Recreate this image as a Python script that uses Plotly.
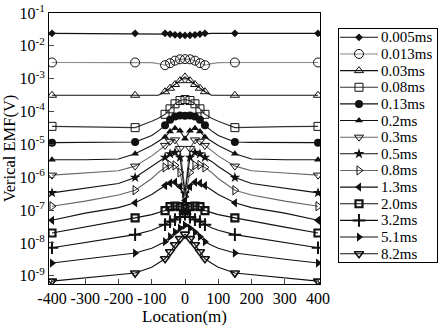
import plotly.graph_objects as go

# ---------------- data ----------------
location = [-400, -300, -200, -150, -100, -80, -60, -45, -30, -15, 0,
            15, 30, 45, 60, 80, 100, 150, 200, 300, 400]
marker_locations = [-400, -150, -60, -45, -30, -15, 0, 15, 30, 45, 60, 150, 400]

time_labels = ["0.005ms", "0.013ms", "0.03ms", "0.08ms", "0.13ms", "0.2ms", "0.3ms",
               "0.5ms", "0.8ms", "1.3ms", "2.0ms", "3.2ms", "5.1ms", "8.2ms"]

emf_0_005 = [2.40e-2, 2.40e-2, 2.40e-2, 2.40e-2, 2.40e-2, 2.40e-2, 2.40e-2, 2.28e-2, 2.16e-2, 2.10e-2, 2.08e-2,
             2.10e-2, 2.16e-2, 2.28e-2, 2.40e-2, 2.40e-2, 2.40e-2, 2.40e-2, 2.40e-2, 2.40e-2, 2.40e-2]
emf_0_013 = [3.12e-3, 3.12e-3, 3.12e-3, 3.12e-3, 3.08e-3, 2.87e-3, 2.58e-3, 2.97e-3, 3.54e-3, 3.89e-3, 3.94e-3,
             3.89e-3, 3.54e-3, 2.97e-3, 2.58e-3, 2.87e-3, 3.08e-3, 3.12e-3, 3.12e-3, 3.12e-3, 3.12e-3]
emf_0_03 = [3.13e-4, 3.13e-4, 3.13e-4, 3.13e-4, 3.13e-4, 3.13e-4, 4.01e-4, 5.13e-4, 6.65e-4, 8.69e-4, 1.135e-3,
            8.69e-4, 6.65e-4, 5.13e-4, 4.01e-4, 3.13e-4, 3.13e-4, 3.13e-4, 3.13e-4, 3.13e-4, 3.13e-4]
emf_0_08 = [3.54e-5, 3.47e-5, 3.35e-5, 3.24e-5, 5.04e-5, 6.22e-5, 8.24e-5, 1.21e-4, 1.72e-4, 2.16e-4, 2.32e-4,
            2.16e-4, 1.72e-4, 1.21e-4, 8.24e-5, 6.22e-5, 5.04e-5, 3.24e-5, 3.35e-5, 3.47e-5, 3.54e-5]
emf_0_13 = [1.13e-5, 1.14e-5, 1.15e-5, 1.18e-5, 1.88e-5, 2.58e-5, 3.80e-5, 5.60e-5, 7.01e-5, 7.52e-5, 7.42e-5,
            7.52e-5, 7.01e-5, 5.60e-5, 3.80e-5, 2.58e-5, 1.88e-5, 1.18e-5, 1.15e-5, 1.14e-5, 1.13e-5]
emf_0_2 = [3.41e-6, 3.41e-6, 3.61e-6, 5.20e-6, 9.32e-6, 1.24e-5, 1.67e-5, 2.49e-5, 3.08e-5, 2.58e-5, 1.49e-5,
           2.58e-5, 3.08e-5, 2.49e-5, 1.67e-5, 1.24e-5, 9.32e-6, 5.20e-6, 3.61e-6, 3.41e-6, 3.41e-6]
emf_0_3 = [1.16e-6, 1.35e-6, 1.57e-6, 2.18e-6, 4.46e-6, 6.33e-6, 9.32e-6, 1.24e-5, 1.37e-5, 7.55e-6, 3.94e-7,
           7.55e-6, 1.37e-5, 1.24e-5, 9.32e-6, 6.33e-6, 4.46e-6, 2.18e-6, 1.57e-6, 1.35e-6, 1.16e-6]
emf_0_5 = [3.35e-7, 4.53e-7, 6.45e-7, 9.83e-7, 2.13e-6, 3.03e-6, 4.01e-6, 5.13e-6, 5.70e-6, 4.01e-6, 3.19e-7,
           4.01e-6, 5.70e-6, 5.13e-6, 4.01e-6, 3.03e-6, 2.13e-6, 9.83e-7, 6.45e-7, 4.53e-7, 3.35e-7]
emf_0_8 = [1.31e-7, 1.88e-7, 2.87e-7, 4.02e-7, 9.16e-7, 1.40e-6, 1.99e-6, 2.37e-6, 2.29e-6, 1.40e-6, 2.58e-7,
           1.40e-6, 2.29e-6, 2.37e-6, 1.99e-6, 1.40e-6, 9.16e-7, 4.02e-7, 2.87e-7, 1.88e-7, 1.31e-7]
emf_1_3 = [4.88e-8, 8.10e-8, 1.19e-7, 1.66e-7, 2.97e-7, 4.08e-7, 5.60e-7, 6.58e-7, 7.06e-7, 5.22e-7, 1.95e-7,
           5.22e-7, 7.06e-7, 6.58e-7, 5.60e-7, 4.08e-7, 2.97e-7, 1.66e-7, 1.19e-7, 8.10e-8, 4.88e-8]
emf_2_0 = [2.01e-8, 3.03e-8, 4.61e-8, 5.78e-8, 7.29e-8, 8.39e-8, 9.65e-8, 1.28e-7, 1.33e-7, 1.28e-7, 1.11e-7,
           1.28e-7, 1.33e-7, 1.28e-7, 9.65e-8, 8.39e-8, 7.29e-8, 5.78e-8, 4.61e-8, 3.03e-8, 2.01e-8]
emf_3_2 = [7.16e-9, 1.05e-8, 1.50e-8, 1.79e-8, 2.45e-8, 2.92e-8, 3.61e-8, 4.46e-8, 5.13e-8, 6.11e-8, 7.55e-8,
           6.11e-8, 5.13e-8, 4.46e-8, 3.61e-8, 2.92e-8, 2.45e-8, 1.79e-8, 1.50e-8, 1.05e-8, 7.16e-9]
emf_5_1 = [2.44e-9, 3.19e-9, 4.23e-9, 4.93e-9, 6.91e-9, 8.54e-9, 1.09e-8, 1.55e-8, 2.13e-8, 2.82e-8, 3.48e-8,
           2.82e-8, 2.13e-8, 1.55e-8, 1.09e-8, 8.54e-9, 6.91e-9, 4.93e-9, 4.23e-9, 3.19e-9, 2.44e-9]
emf_8_2 = [6.89e-10, 8.69e-10, 1.07e-9, 1.21e-9, 1.82e-9, 2.41e-9, 3.30e-9, 5.40e-9, 8.84e-9, 1.35e-8, 1.85e-8,
           1.35e-8, 8.84e-9, 5.40e-9, 3.30e-9, 2.41e-9, 1.82e-9, 1.21e-9, 1.07e-9, 8.69e-10, 6.89e-10]

y_tick_vals = [1e-1, 1e-2, 1e-3, 1e-4, 1e-5, 1e-6, 1e-7, 1e-8, 1e-9]
y_tick_text = ["10<sup>-1</sup>", "10<sup>-2</sup>", "10<sup>-3</sup>", "10<sup>-4</sup>", "10<sup>-5</sup>",
               "10<sup>-6</sup>", "10<sup>-7</sup>", "10<sup>-8</sup>", "10<sup>-9</sup>"]
x_tick_vals = [-400, -300, -200, -100, 0, 100, 200, 300, 400]
x_tick_text = ["-400", "-300", "-200", "-100", "0", "100", "200", "300", "400"]

series = [emf_0_005, emf_0_013, emf_0_03, emf_0_08, emf_0_13, emf_0_2, emf_0_3,
          emf_0_5, emf_0_8, emf_1_3, emf_2_0, emf_3_2, emf_5_1, emf_8_2]

# ---------------- styles ----------------
symbols = ["diamond", "circle-open", "triangle-up-open", "square-open", "circle", "triangle-up",
           "triangle-down-open", "star", "triangle-right-open", "triangle-left", "square-open",
           "cross-thin-open", "triangle-right", "triangle-down-open"]
sizes = [6, 9, 8, 8, 8, 7, 8, 8, 8, 8, 7, 9, 8, 8]
marker_line_widths = [0, 1, 1, 1, 0, 0, 1, 0, 1, 0, 2.2, 2, 0, 1.6]
line_colors = ["#111111", "#8a8a8a", "#111111", "#333333", "#111111", "#111111", "#666666",
               "#111111", "#666666", "#111111", "#111111", "#111111", "#111111", "#111111"]
ink = "#111111"
clear = "rgba(0,0,0,0)"
font_family = "Liberation Serif, Times New Roman, serif"

# hand-drawn legend box layout (in legend-axis units = pixels of the box)
legend_sample_x = [1, 20, 39]
legend_text_x = 40

fig = go.Figure()
for label, vals, sym, sz, mlw, lc in zip(time_labels, series, symbols, sizes, marker_line_widths, line_colors):
    colors = [ink if x in marker_locations else clear for x in location]
    fig.add_trace(go.Scatter(
        x=location, y=vals, name=label, mode="lines+markers", showlegend=False,
        line=dict(color=lc, width=1.1),
        marker=dict(symbol=sym, size=sz, color=colors, line=dict(width=mlw, color=colors)),
        xaxis="x", yaxis="y",
    ))

# legend entries drawn on a small auxiliary axis pair
for label, sym, sz, mlw, lc in zip(time_labels, symbols, sizes, marker_line_widths, line_colors):
    fig.add_trace(go.Scatter(
        x=legend_sample_x, y=[label] * 3, mode="lines+markers", showlegend=False,
        line=dict(color=lc, width=1.1),
        marker=dict(symbol=sym, size=sz, color=[clear, ink, clear], line=dict(width=mlw, color=[clear, ink, clear])),
        xaxis="x2", yaxis="y2", hoverinfo="skip",
    ))
    fig.add_annotation(x=legend_text_x, y=label, xref="x2", yref="y2", text=label, showarrow=False,
                       xanchor="left", yanchor="middle",
                       font=dict(family=font_family, size=15, color="black"))

fig.update_layout(
    template="none",
    width=444, height=327,
    margin=dict(l=49, r=7, t=13, b=43),
    paper_bgcolor="white", plot_bgcolor="white",
    font=dict(family=font_family, size=16, color="black"),
    showlegend=False,
    xaxis=dict(
        domain=[0, 271 / 388], anchor="y",
        range=[-409, 406], tickvals=x_tick_vals, ticktext=x_tick_text,
        ticks="inside", ticklen=5, tickangle=0,
        showline=True, linecolor="black", linewidth=1, mirror=True,
        showgrid=False, zeroline=False, automargin=False,
        tickfont=dict(family=font_family, size=16),
        title=dict(text="Location(m)", font=dict(family=font_family, size=17), standoff=0),
    ),
    yaxis=dict(
        domain=[0, 1], anchor="x",
        type="log", range=[-9.25, -1.0], tickvals=y_tick_vals, ticktext=y_tick_text,
        ticks="inside", ticklen=5,
        showline=True, linecolor="black", linewidth=1, mirror=True,
        showgrid=False, zeroline=False, automargin=False,
        tickfont=dict(family=font_family, size=16),
        title=dict(text="Verical EMF(V)", font=dict(family=font_family, size=16.5), standoff=2),
    ),
    xaxis2=dict(
        domain=[290 / 388, 1.0], anchor="y2", range=[0, 98],
        showline=True, linecolor="black", linewidth=1, mirror=True,
        showticklabels=False, ticks="", showgrid=False, zeroline=False, automargin=False,
    ),
    yaxis2=dict(
        domain=[22 / 271, 255 / 271], anchor="x2",
        type="category", categoryorder="array", categoryarray=time_labels[::-1],
        range=[-0.5, len(time_labels) - 0.5],
        showline=True, linecolor="black", linewidth=1, mirror=True,
        showticklabels=False, ticks="", showgrid=False, zeroline=False, automargin=False,
    ),
)

fig.write_html("out.html", config={"displayModeBar": False},
               post_script="document.body.style.margin='0';")
